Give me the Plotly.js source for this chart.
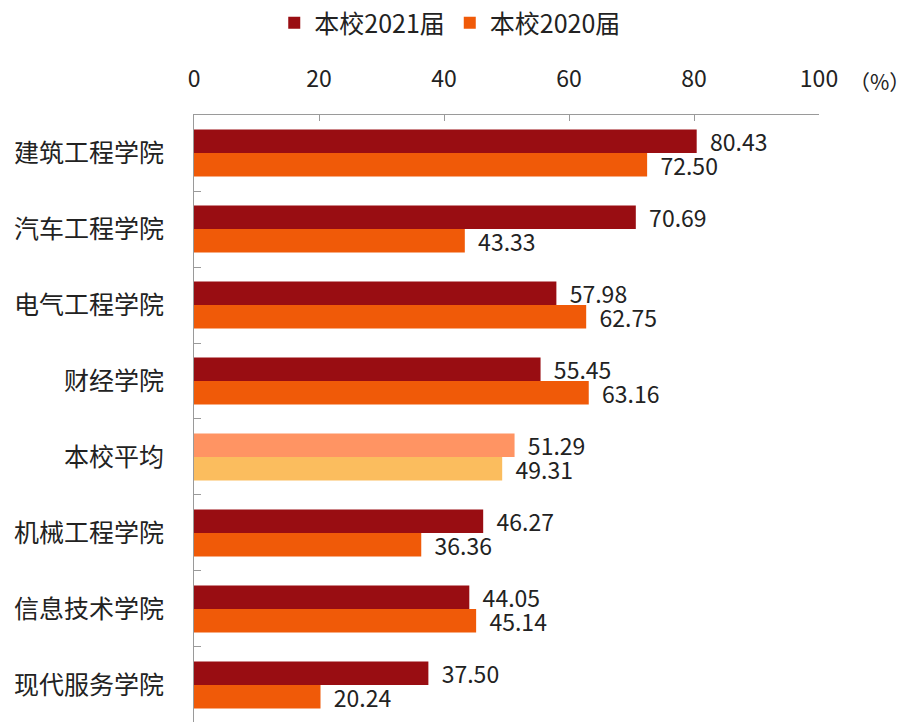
<!DOCTYPE html>
<html>
<head>
<meta charset="utf-8">
<script src="https://cdn.plot.ly/plotly-3.0.1.min.js"></script>
<style>html,body{margin:0;padding:0;background:#fff;}#chart{width:914px;height:722px;}</style>
</head>
<body>
<div id="chart"></div>
<script>
const categories = ['建筑工程学院','汽车工程学院','电气工程学院','财经学院','本校平均','机械工程学院','信息技术学院','现代服务学院'];
const values2021 = [80.43, 70.69, 57.98, 55.45, 51.29, 46.27, 44.05, 37.50];
const values2020 = [72.50, 43.33, 62.75, 63.16, 49.31, 36.36, 45.14, 20.24];
const seriesNames = ['本校2021届', '本校2020届'];
const xTicks = [0, 20, 40, 60, 80, 100];
const avgLabel = '本校平均';

const c2021 = '#990D12', c2020 = '#F05A08', cAvg2021 = '#FF9463', cAvg2020 = '#FBBD5E';
const font = '"Noto Sans CJK SC", "Noto Sans", sans-serif';
const pre = '\u00A0\u00A0';

const mk = (vals, name, base, avg) => ({
  type: 'bar', orientation: 'h', name: name,
  y: categories, x: vals,
  marker: {color: categories.map(c => c === avgLabel ? avg : base), line: {width: 0}},
  text: vals.map(v => pre + v.toFixed(2)),
  textposition: 'outside', cliponaxis: false, constraintext: 'none',
  textfont: {size: 23, color: '#222', family: font},
  hoverinfo: 'x'
});

const data = [mk(values2021, seriesNames[0], c2021, cAvg2021), mk(values2020, seriesNames[1], c2020, cAvg2020)];

const layout = {
  width: 914, height: 722,
  margin: {l: 194, r: 95, t: 115, b: 0},
  paper_bgcolor: '#fff', plot_bgcolor: '#fff',
  barmode: 'group', bargap: 0.38, bargroupgap: 0,
  font: {family: font, color: '#222'},
  showlegend: true,
  legend: {orientation: 'h', x: 0.41, xanchor: 'center', xref: 'paper', y: 0.968, yref: 'container', yanchor: 'middle',
           font: {size: 25, color: '#222', family: font}, traceorder: 'normal', itemclick: false},
  xaxis: {side: 'top', range: [0, 100], tickvals: xTicks, ticktext: xTicks.map(String),
          showline: true, linecolor: '#9a9a9a', linewidth: 1, mirror: false,
          ticks: 'inside', ticklen: 6, tickcolor: '#9a9a9a', showgrid: false, zeroline: false,
          ticklabelstandoff: 18, tickfont: {size: 23, color: '#222', family: font}, fixedrange: true},
  yaxis: {categoryorder: 'array', categoryarray: categories, range: [7.487, -0.5],
          showline: true, linecolor: '#9a9a9a', linewidth: 1,
          ticks: 'inside', tickson: 'boundaries', ticklen: 7, tickcolor: '#9a9a9a',
          showgrid: false, zeroline: false, ticklabelstandoff: 24,
          tickfont: {size: 25, color: '#222', family: font}, fixedrange: true},
  annotations: [{xref: 'paper', yref: 'paper', x: 1.148, y: 1, yshift: 34, xanchor: 'right', yanchor: 'middle',
                 text: '（%）', showarrow: false, font: {size: 21, color: '#222', family: font}}]
};

Plotly.newPlot('chart', data, layout, {displayModeBar: false, staticPlot: true});
</script>
</body>
</html>
